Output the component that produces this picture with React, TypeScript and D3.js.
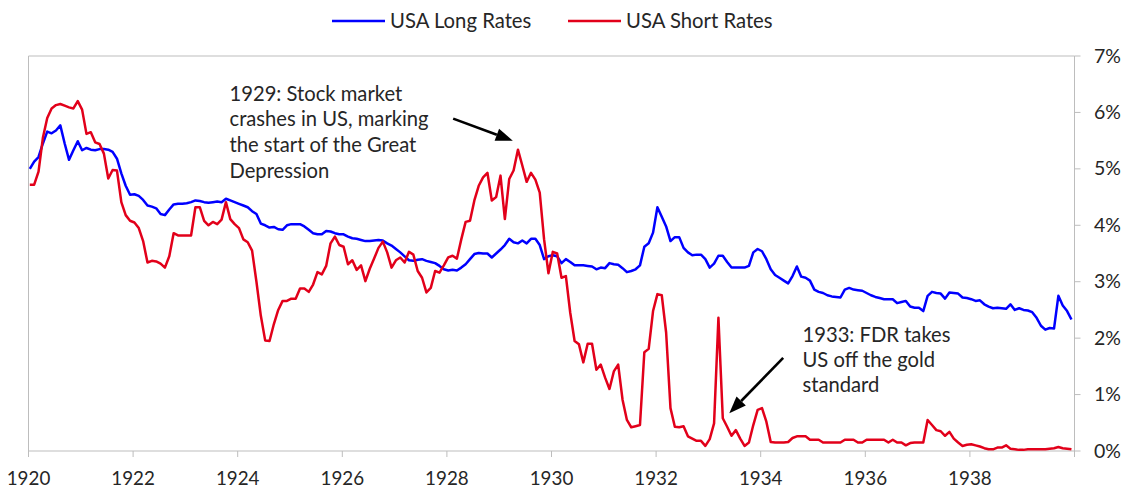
import * as d3 from "d3";

// monthly yields, Jan 1920 .. Dec 1939, one row per year
const longRates = [
  5.0, 5.13, 5.21, 5.45, 5.66, 5.63, 5.68, 5.77, 5.45, 5.16, 5.33, 5.49,
  5.33, 5.37, 5.34, 5.33, 5.35, 5.35, 5.34, 5.3, 5.18, 4.92, 4.7, 4.54,
  4.55, 4.52, 4.45, 4.35, 4.33, 4.3, 4.2, 4.18, 4.28, 4.37, 4.38, 4.38,
  4.39, 4.41, 4.44, 4.43, 4.41, 4.4, 4.41, 4.42, 4.41, 4.47, 4.44, 4.41,
  4.38, 4.35, 4.32, 4.25, 4.2, 4.03, 4.0, 3.96, 3.97, 3.93, 3.92, 4.0,
  4.02, 4.02, 4.02, 3.98, 3.92, 3.86, 3.84, 3.84, 3.9, 3.89, 3.86, 3.84,
  3.84, 3.8, 3.77, 3.76, 3.74, 3.72, 3.72, 3.73, 3.74, 3.73, 3.68, 3.64,
  3.58, 3.52, 3.45, 3.38, 3.37, 3.39, 3.4, 3.37, 3.35, 3.33, 3.28, 3.22,
  3.2, 3.21, 3.2, 3.25, 3.31, 3.4, 3.49, 3.51, 3.5, 3.5, 3.43, 3.5,
  3.57, 3.65, 3.76, 3.7, 3.68, 3.73, 3.68, 3.76, 3.76, 3.65, 3.4, 3.45,
  3.47, 3.45, 3.33, 3.4, 3.35, 3.29, 3.29, 3.29, 3.28, 3.27, 3.22, 3.25,
  3.24, 3.33, 3.31, 3.3, 3.24, 3.17, 3.19, 3.22, 3.29, 3.62, 3.68, 3.87,
  4.32, 4.15, 3.98, 3.72, 3.79, 3.79, 3.6, 3.52, 3.47, 3.48, 3.48, 3.4,
  3.25, 3.32, 3.46, 3.46, 3.35, 3.25, 3.25, 3.25, 3.25, 3.28, 3.52, 3.58,
  3.54, 3.4, 3.22, 3.12, 3.07, 3.02, 2.97, 3.1, 3.27, 3.09, 3.07, 3.02,
  2.86, 2.82, 2.8, 2.76, 2.74, 2.73, 2.72, 2.86, 2.89, 2.86, 2.85, 2.84,
  2.8, 2.76, 2.73, 2.71, 2.69, 2.69, 2.69, 2.62, 2.64, 2.66, 2.56, 2.54,
  2.54, 2.48, 2.75, 2.82, 2.8, 2.79, 2.7, 2.81, 2.8, 2.79, 2.72, 2.71,
  2.69, 2.66, 2.67, 2.6, 2.56, 2.53, 2.54, 2.53, 2.52, 2.6, 2.5, 2.53,
  2.5, 2.49, 2.46, 2.36, 2.22, 2.15, 2.18, 2.17, 2.75, 2.58, 2.48, 2.33,
];

const shortRates = [
  4.72, 4.72, 4.95, 5.55, 5.9, 6.07, 6.13, 6.15, 6.12, 6.09, 6.07, 6.2,
  6.05, 5.62, 5.65, 5.47, 5.44, 5.27, 4.83, 4.98, 4.97, 4.41, 4.18, 4.08,
  4.05, 3.95, 3.72, 3.34, 3.37, 3.36, 3.32, 3.25, 3.45, 3.86, 3.82, 3.82,
  3.82, 3.82, 4.32, 4.32, 4.08, 4.0, 4.06, 4.02, 4.1, 4.41, 4.11, 4.02,
  3.95, 3.75, 3.7, 3.55, 3.0, 2.4, 1.96, 1.95, 2.25, 2.5, 2.66, 2.66,
  2.7, 2.7, 2.88, 2.88, 2.82, 2.95, 3.17, 3.13, 3.28, 3.68, 3.8, 3.65,
  3.62, 3.31, 3.38, 3.21, 3.29, 3.01, 3.23, 3.41, 3.6, 3.71, 3.52, 3.25,
  3.38, 3.43, 3.34, 3.53, 3.48, 3.19, 3.07, 2.81, 2.89, 3.19, 3.16, 3.29,
  3.43, 3.46, 3.41, 3.75, 4.06, 4.08, 4.44, 4.7, 4.85, 4.93, 4.44, 4.5,
  4.88, 4.11, 4.82, 4.97, 5.34, 5.06, 4.77, 4.93, 4.81, 4.58, 3.75, 3.15,
  3.53, 3.5, 3.07, 3.1, 2.45, 1.95, 1.89, 1.57, 1.9, 1.9, 1.44, 1.53,
  1.3, 1.1, 1.41, 1.53, 0.91, 0.55, 0.42, 0.44, 0.46, 1.75, 1.81, 2.48,
  2.78, 2.76, 2.1, 0.76, 0.43, 0.42, 0.44, 0.26, 0.22, 0.18, 0.18, 0.09,
  0.21, 0.49, 2.36, 0.58, 0.43, 0.27, 0.37, 0.22, 0.09, 0.15, 0.46, 0.73,
  0.76, 0.52, 0.16, 0.15, 0.15, 0.15, 0.16, 0.23, 0.26, 0.26, 0.26, 0.2,
  0.2, 0.2, 0.15, 0.15, 0.15, 0.15, 0.15, 0.2, 0.2, 0.2, 0.15, 0.15,
  0.2, 0.2, 0.2, 0.2, 0.2, 0.15, 0.2, 0.15, 0.15, 0.1, 0.14, 0.15,
  0.15, 0.15, 0.55, 0.46, 0.37, 0.35, 0.27, 0.34, 0.22, 0.15, 0.09, 0.11,
  0.12, 0.1, 0.08, 0.05, 0.03, 0.03, 0.06, 0.06, 0.1, 0.04, 0.03, 0.02,
  0.02, 0.03, 0.03, 0.03, 0.03, 0.03, 0.04, 0.05, 0.07, 0.05, 0.04, 0.03,
];

const yearTicks = [1920, 1922, 1924, 1926, 1928, 1930, 1932, 1934, 1936, 1938];
const rateTicks = [0, 1, 2, 3, 4, 5, 6, 7];
const seriesNames = ["USA Long Rates", "USA Short Rates"];
const seriesColors = ["#0000ff", "#e2001a"];

const crashNote = ["1929: Stock market", "crashes in US, marking", "the start of the Great", "Depression"];
const goldNote = ["1933: FDR takes", "US off the gold", "standard"];

const W = 1132;
const H = 491;
const FONT = "Lato, 'Open Sans', sans-serif";
const INK = "#262626";
const GRID = "#bdbdbd";

export default function App() {
  const x = d3.scaleLinear().domain([1920, 1940]).range([28.5, 1074.5]);
  const y = d3.scaleLinear().domain([0, 7]).range([451, 56]);

  // monthly points, nudged a little into the month so the ends meet the picture
  const line = d3
    .line<number>()
    .x((_, i) => x(1920 + (i + 0.3) / 12))
    .y((d) => y(d));

  const arrow = (x1: number, y1: number, x2: number, y2: number) => {
    const ang = Math.atan2(y2 - y1, x2 - x1);
    const len = 17;
    const half = 6.5;
    const bx = x2 - len * Math.cos(ang);
    const by = y2 - len * Math.sin(ang);
    const px = -Math.sin(ang) * half;
    const py = Math.cos(ang) * half;
    return (
      <g>
        <line x1={x1} y1={y1} x2={bx} y2={by} stroke="#000" strokeWidth={2.6} />
        <path d={`M${x2},${y2}L${bx + px},${by + py}L${bx - px},${by - py}Z`} fill="#000" />
      </g>
    );
  };

  return (
    <svg
      width={W}
      height={H}
      style={{ position: "absolute", left: 0, top: 0, background: "#fff" }}
      fontFamily={FONT}
    >
      {/* frame */}
      <line x1={x(1920)} x2={x(1940)} y1={y(7)} y2={y(7)} stroke={GRID} />
      <line x1={x(1920)} x2={x(1920)} y1={y(7)} y2={y(0)} stroke={GRID} />
      <line x1={x(1940)} x2={x(1940)} y1={y(7)} y2={y(0)} stroke={GRID} />
      <line x1={x(1920)} x2={x(1940)} y1={y(0)} y2={y(0)} stroke={GRID} />

      {/* bottom axis */}
      {[...yearTicks, 1940].map((t) => (
        <line key={"xt" + t} x1={x(t)} x2={x(t)} y1={y(0)} y2={y(0) + 6} stroke={GRID} />
      ))}
      {yearTicks.map((t) => (
        <text key={"xl" + t} x={x(t)} y={485} textAnchor="middle" fontSize={18.8} fill={INK}>
          {t}
        </text>
      ))}

      {/* right axis */}
      {rateTicks.map((r) => (
        <g key={"yt" + r}>
          <line x1={x(1940)} x2={x(1940) + 6} y1={y(r)} y2={y(r)} stroke={GRID} />
          <text x={1094} y={y(r) + 6.5} fontSize={19.5} fill={INK}>
            {r}%
          </text>
        </g>
      ))}

      {/* series */}
      <path d={line(longRates) ?? ""} fill="none" stroke={seriesColors[0]} strokeWidth={2.5} strokeLinejoin="round" />
      <path d={line(shortRates) ?? ""} fill="none" stroke={seriesColors[1]} strokeWidth={2.5} strokeLinejoin="round" />

      {/* legend */}
      <line x1={332} x2={385} y1={21} y2={21} stroke={seriesColors[0]} strokeWidth={2.5} />
      <text x={390} y={28} fontSize={20.3} fill={INK}>{seriesNames[0]}</text>
      <line x1={568} x2={621} y1={21} y2={21} stroke={seriesColors[1]} strokeWidth={2.5} />
      <text x={626} y={28} fontSize={20.3} fill={INK}>{seriesNames[1]}</text>

      {/* annotations */}
      {crashNote.map((s, i) => (
        <text key={"c" + i} x={229.5} y={100.5 + i * 25.7} fontSize={20.2} fill={INK}>
          {s}
        </text>
      ))}
      {arrow(x(1928.12), y(5.89), x(1929.26), y(5.5))}

      {goldNote.map((s, i) => (
        <text key={"g" + i} x={802.5} y={342.3 + i * 24.8} fontSize={20.2} fill={INK}>
          {s}
        </text>
      ))}
      {arrow(x(1934.43), y(1.65), x(1933.4), y(0.67))}
    </svg>
  );
}
